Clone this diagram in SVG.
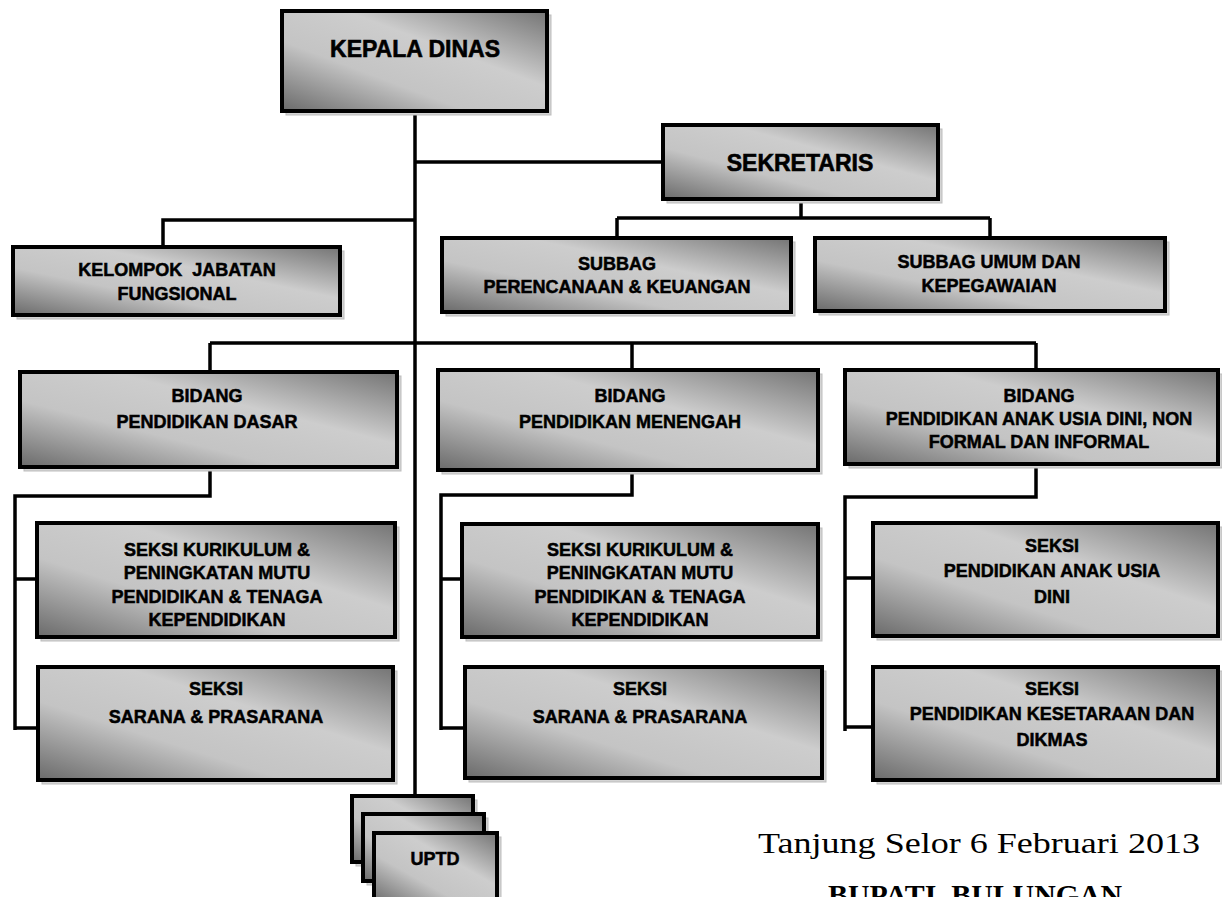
<svg xmlns="http://www.w3.org/2000/svg" width="1222" height="897" viewBox="0 0 1222 897">
<defs>
<linearGradient id="g" x1="0" y1="1" x2="1" y2="0">
<stop offset="0" stop-color="#6a6a6a"/>
<stop offset="0.35" stop-color="#c4c4c4"/>
<stop offset="0.62" stop-color="#cdcdcd"/>
<stop offset="1" stop-color="#747474"/>
</linearGradient>
</defs>
<style>
.sh{fill:#d4d4d4;stroke:#bdbdbd;stroke-width:1}
.box{fill:url(#g);stroke:#000;stroke-width:4}
.t{font-family:"Liberation Sans",Arial,sans-serif;font-weight:bold;font-size:18px;text-anchor:middle;fill:#000;stroke:#000;stroke-width:0.5}
.tl{font-size:23px;stroke-width:0.6}
.conn{stroke:#000;stroke-width:3.5;fill:none}
.serif{font-family:"Liberation Serif","Times New Roman",serif;fill:#000}
</style>
<rect width="1222" height="897" fill="#fff"/>
<g id="connectors">
<path class="conn" d="M415 111 V797"/>
<path class="conn" d="M415 162 H663"/>
<path class="conn" d="M415 220 H163 V247"/>
<path class="conn" d="M801 199 V218 M617 218 H990 M617 218 V238 M990 218 V238"/>
<path class="conn" d="M210 343 H1036 M210 343 V372 M632 343 V370 M1036 343 V370"/>
<path class="conn" d="M210 467 V496 H15 V730 M15 579 H37 M15 728 H38"/>
<path class="conn" d="M632 470 V495 H441 V730 M441 579 H462 M441 728 H465"/>
<path class="conn" d="M1036 464 V497 H845 V731 M845 578 H873 M845 727 H873"/>
</g>
<g id="kepala">
<rect class="sh" x="286" y="15" width="265" height="100"/>
<rect class="box" x="282" y="11" width="265" height="100"/>
<text class="t tl" x="415" y="57">KEPALA DINAS</text>
</g>
<g id="sekretaris">
<rect class="sh" x="667" y="129" width="275" height="74"/>
<rect class="box" x="663" y="125" width="275" height="74"/>
<text class="t tl" x="800" y="171">SEKRETARIS</text>
</g>
<g id="kelompok">
<rect class="sh" x="17" y="251" width="327" height="68"/>
<rect class="box" x="13" y="247" width="327" height="68"/>
<text class="t" x="177" y="276" xml:space="preserve">KELOMPOK  JABATAN</text>
<text class="t" x="177" y="300">FUNGSIONAL</text>
</g>
<g id="subbag-perencanaan">
<rect class="sh" x="446" y="242" width="349" height="74"/>
<rect class="box" x="442" y="238" width="349" height="74"/>
<text class="t" x="617" y="270">SUBBAG</text>
<text class="t" x="617" y="293">PERENCANAAN &amp; KEUANGAN</text>
</g>
<g id="subbag-umum">
<rect class="sh" x="819" y="242" width="350" height="73"/>
<rect class="box" x="815" y="238" width="350" height="73"/>
<text class="t" x="989" y="268">SUBBAG UMUM DAN</text>
<text class="t" x="989" y="292">KEPEGAWAIAN</text>
</g>
<g id="bidang-dasar">
<rect class="sh" x="24" y="376" width="377" height="95"/>
<rect class="box" x="20" y="372" width="377" height="95"/>
<text class="t" x="207" y="402">BIDANG</text>
<text class="t" x="207" y="428">PENDIDIKAN DASAR</text>
</g>
<g id="bidang-menengah">
<rect class="sh" x="442" y="374" width="380" height="100"/>
<rect class="box" x="438" y="370" width="380" height="100"/>
<text class="t" x="630" y="402">BIDANG</text>
<text class="t" x="630" y="428">PENDIDIKAN MENENGAH</text>
</g>
<g id="bidang-paud">
<rect class="sh" x="849" y="374" width="373" height="94"/>
<rect class="box" x="845" y="370" width="373" height="94"/>
<text class="t" x="1039" y="402">BIDANG</text>
<text class="t" x="1039" y="425">PENDIDIKAN ANAK USIA DINI, NON</text>
<text class="t" x="1039" y="448">FORMAL DAN INFORMAL</text>
</g>
<g id="seksi-kurikulum-dasar">
<rect class="sh" x="41" y="527" width="358" height="114"/>
<rect class="box" x="37" y="523" width="358" height="114"/>
<text class="t" x="217" y="556">SEKSI KURIKULUM &amp;</text>
<text class="t" x="217" y="579">PENINGKATAN MUTU</text>
<text class="t" x="217" y="603">PENDIDIKAN &amp; TENAGA</text>
<text class="t" x="217" y="626">KEPENDIDIKAN</text>
</g>
<g id="seksi-sarana-dasar">
<rect class="sh" x="42" y="671" width="355" height="113"/>
<rect class="box" x="38" y="667" width="355" height="113"/>
<text class="t" x="216" y="695">SEKSI</text>
<text class="t" x="216" y="723">SARANA &amp; PRASARANA</text>
</g>
<g id="seksi-kurikulum-menengah">
<rect class="sh" x="466" y="528" width="356" height="113"/>
<rect class="box" x="462" y="524" width="356" height="113"/>
<text class="t" x="640" y="556">SEKSI KURIKULUM &amp;</text>
<text class="t" x="640" y="579">PENINGKATAN MUTU</text>
<text class="t" x="640" y="603">PENDIDIKAN &amp; TENAGA</text>
<text class="t" x="640" y="626">KEPENDIDIKAN</text>
</g>
<g id="seksi-sarana-menengah">
<rect class="sh" x="469" y="671" width="357" height="111"/>
<rect class="box" x="465" y="667" width="357" height="111"/>
<text class="t" x="640" y="695">SEKSI</text>
<text class="t" x="640" y="723">SARANA &amp; PRASARANA</text>
</g>
<g id="seksi-paud">
<rect class="sh" x="877" y="527" width="345" height="113"/>
<rect class="box" x="873" y="523" width="345" height="113"/>
<text class="t" x="1052" y="552">SEKSI</text>
<text class="t" x="1052" y="577">PENDIDIKAN ANAK USIA</text>
<text class="t" x="1052" y="603">DINI</text>
</g>
<g id="seksi-kesetaraan">
<rect class="sh" x="877" y="671" width="345" height="113"/>
<rect class="box" x="873" y="667" width="345" height="113"/>
<text class="t" x="1052" y="695">SEKSI</text>
<text class="t" x="1052" y="720">PENDIDIKAN KESETARAAN DAN</text>
<text class="t" x="1052" y="746">DIKMAS</text>
</g>
<g id="uptd">
<rect class="sh" x="356" y="800" width="121" height="66"/>
<rect class="box" x="352" y="796" width="121" height="66"/>
<rect class="sh" x="367" y="818" width="121" height="67"/>
<rect class="box" x="363" y="814" width="121" height="67"/>
<rect class="sh" x="378" y="837" width="123" height="70"/>
<rect class="box" x="374" y="833" width="123" height="70"/>
<text class="t" x="435" y="865">UPTD</text>
</g>
<g id="signature">
<text class="serif" x="758" y="853" font-size="29" textLength="442" lengthAdjust="spacingAndGlyphs">Tanjung Selor 6 Februari 2013</text>
<text class="serif" x="828" y="905" font-size="29" font-weight="bold" textLength="294" lengthAdjust="spacingAndGlyphs" xml:space="preserve">BUPATI  BULUNGAN</text>
</g>
</svg>
